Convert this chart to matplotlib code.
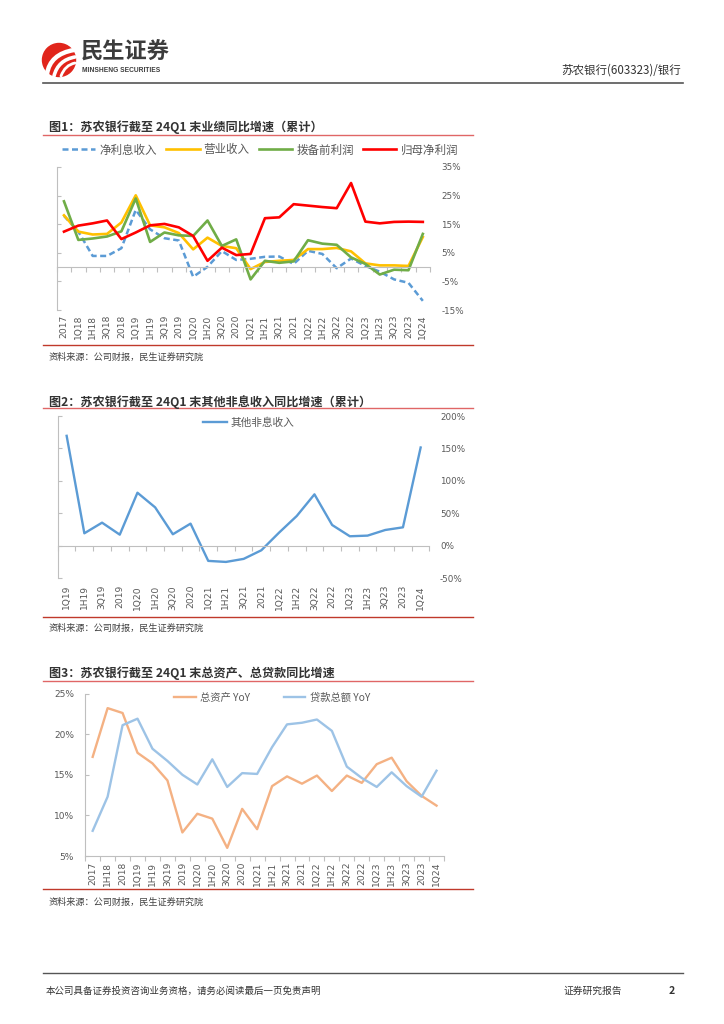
import numpy as np
import matplotlib
matplotlib.use('Agg')
import matplotlib.pyplot as plt
from matplotlib.patches import Circle, PathPatch
from matplotlib.path import Path
from matplotlib.ticker import FuncFormatter

plt.rcParams['font.family'] = ['Noto Sans CJK SC', 'DejaVu Sans']

# ---------------- data ----------------
periods1 = ['2017', '1Q18', '1H18', '3Q18', '2018', '1Q19', '1H19', '3Q19', '2019',
            '1Q20', '1H20', '3Q20', '2020', '1Q21', '1H21', '3Q21', '2021',
            '1Q22', '1H22', '3Q22', '2022', '1Q23', '1H23', '3Q23', '2023', '1Q24']
net_interest_income = [17.9, 12.4, 3.9, 3.9, 6.6, 20.0, 13.2, 10.1, 9.3, -3.4, 0.1, 5.6, 2.5,
                       2.9, 3.6, 3.7, 1.1, 5.7, 4.6, -0.4, 3.0, 0.4, -1.6, -4.3, -5.5, -11.8]
operating_revenue = [18.1, 12.4, 11.4, 11.6, 15.6, 25.1, 14.6, 13.9, 11.9, 6.2, 10.3, 7.4, 6.6,
                     -0.7, 1.8, 2.2, 2.5, 6.3, 6.3, 6.7, 5.5, 1.3, 0.6, 0.6, 0.4, 10.5]
pre_provision_profit = [23.0, 9.5, 10.0, 10.7, 12.5, 24.0, 8.8, 12.1, 11.1, 10.9, 16.3, 7.4, 9.7,
                        -4.3, 2.2, 1.5, 2.0, 9.4, 8.2, 7.8, 3.4, 1.1, -2.6, -0.9, -1.1, 11.6]
net_profit_parent = [12.4, 14.5, 15.3, 16.3, 9.8, 12.1, 14.6, 15.1, 13.9, 10.9, 2.2, 6.8, 4.2,
                     4.6, 17.1, 17.4, 22.0, 21.5, 21.0, 20.6, 29.4, 15.9, 15.3, 15.8, 15.9, 15.8]
labels1 = ['净利息收入', '营业收入', '拨备前利润', '归母净利润']
yticks1 = [-15, -5, 5, 15, 25, 35]

periods2 = ['1Q19', '1H19', '3Q19', '2019', '1Q20', '1H20', '3Q20', '2020', '1Q21', '1H21',
            '3Q21', '2021', '1Q22', '1H22', '3Q22', '2022', '1Q23', '1H23', '3Q23', '2023', '1Q24']
other_non_interest = [169.4, 19.0, 35.4, 16.9, 81.6, 59.0, 17.5, 33.9, -23.6, -25.2, -20.5,
                      -7.2, 20.0, 45.7, 79.1, 31.8, 14.4, 15.4, 24.1, 28.2, 151.4]
labels2 = ['其他非息收入']
yticks2 = [-50, 0, 50, 100, 150, 200]

periods3 = ['2017', '1H18', '2018', '1Q19', '1H19', '3Q19', '2019', '1Q20', '1H20', '3Q20',
            '2020', '1Q21', '1H21', '3Q21', '2021', '1Q22', '1H22', '3Q22', '2022', '1Q23',
            '1H23', '3Q23', '2023', '1Q24']
total_assets_yoy = [17.2, 23.2, 22.6, 17.7, 16.4, 14.3, 7.9, 10.2, 9.6, 6.0, 10.8, 8.3, 13.6,
                    14.8, 13.9, 14.9, 13.0, 14.9, 14.0, 16.3, 17.1, 14.2, 12.4, 11.2]
total_loans_yoy = [8.1, 12.3, 21.1, 21.9, 18.2, 16.7, 15.0, 13.8, 16.9, 13.5, 15.2, 15.1, 18.4,
                   21.2, 21.4, 21.8, 20.4, 16.0, 14.6, 13.5, 15.3, 13.6, 12.3, 15.5]
labels3 = ['总资产 YoY', '贷款总额 YoY']
yticks3 = [5, 10, 15, 20, 25]

titles = ['图1：苏农银行截至 24Q1 末业绩同比增速（累计）',
          '图2：苏农银行截至 24Q1 末其他非息收入同比增速（累计）',
          '图3：苏农银行截至 24Q1 末总资产、总贷款同比增速']
source_text = '资料来源：公司财报，民生证券研究院'

# ---------------- figure ----------------
W, H = 724, 1024
fig = plt.figure(figsize=(W / 100, H / 100), dpi=100)

GRAY = '#BFBFBF'
TXT = '#595959'
TICKFONT = 'DejaVu Sans'


def box(l, t, r, b):
    return [l / W, 1 - b / H, (r - l) / W, (b - t) / H]


pct = FuncFormatter(lambda v, p: f'{v:.0f}%')


def zero_axis_style(ax, periods, ylim, yticks, ypad, xpad):
    n = len(periods)
    ax.set_xlim(-0.5, n - 0.5)
    ax.set_ylim(*ylim)
    for s in ['top', 'right']:
        ax.spines[s].set_visible(False)
    ax.spines['left'].set_color(GRAY)
    ax.spines['bottom'].set_color(GRAY)
    ax.spines['bottom'].set_position(('data', 0))
    ax.set_xticks(np.arange(-0.5, n, 1.0))
    ax.tick_params(axis='x', length=3.5, color=GRAY, labelbottom=False, direction='out', width=0.8)
    ax.set_yticks(yticks)
    ax.yaxis.set_major_formatter(pct)
    ax.tick_params(axis='y', left=True, right=False, labelleft=False, labelright=True,
                   direction='in', length=3, color=GRAY, width=0.8, pad=ypad)
    for t in ax.get_yticklabels():
        t.set_fontsize(6.3)
        t.set_color(TXT)
        t.set_family(TICKFONT)
    sec = ax.secondary_xaxis('bottom')
    sec.set_xticks(range(n))
    sec.set_xticklabels(periods, rotation=90, fontsize=6.6, color=TXT, family=TICKFONT)
    sec.tick_params(length=0, pad=xpad)
    for s in sec.spines.values():
        s.set_visible(False)


# ---- chart 1 ----
ax1 = fig.add_axes(box(56.8, 167, 430, 310))
x1 = np.arange(len(periods1))
l_a, = ax1.plot(x1, net_interest_income, color='#5B9BD5', lw=1.8, ls=(0, (2.4, 1.4)))
l_b, = ax1.plot(x1, operating_revenue, color='#FFC000', lw=1.9)
l_c, = ax1.plot(x1, pre_provision_profit, color='#70AD47', lw=1.9)
l_d, = ax1.plot(x1, net_profit_parent, color='#FF0000', lw=1.9)
zero_axis_style(ax1, periods1, (-15, 35), yticks1, 8, 3.5)
fig.legend([l_a, l_b, l_c, l_d], labels1, loc='center', bbox_to_anchor=(260 / W, 1 - 150 / H),
           ncol=4, frameon=False, fontsize=8.3, handlelength=2.9, handletextpad=0.35,
           columnspacing=0.8, labelcolor=TXT, borderpad=0)

# ---- chart 2 ----
ax2 = fig.add_axes(box(57.8, 416, 429.5, 578))
x2 = np.arange(len(periods2))
l_e, = ax2.plot(x2, other_non_interest, color='#5B9BD5', lw=1.7)
zero_axis_style(ax2, periods2, (-50, 200), yticks2, 7.5, 5)
fig.legend([l_e], labels2, loc='center', bbox_to_anchor=(249 / W, 1 - 423 / H),
           frameon=False, fontsize=7.7, handlelength=2.2, handletextpad=0.35,
           labelcolor=TXT, borderpad=0)

# ---- chart 3 ----
ax3 = fig.add_axes(box(85.2, 693.5, 444, 856))
x3 = np.arange(len(periods3))
l_f, = ax3.plot(x3, total_assets_yoy, color='#F4B183', lw=1.7)
l_g, = ax3.plot(x3, total_loans_yoy, color='#9DC3E6', lw=1.7)
n3 = len(periods3)
ax3.set_xlim(-0.5, n3 - 0.5)
ax3.set_ylim(5, 25)
for s in ['top', 'right']:
    ax3.spines[s].set_visible(False)
for s in ['left', 'bottom']:
    ax3.spines[s].set_color(GRAY)
ax3.set_xticks(x3)
ax3.set_xticklabels(periods3, rotation=90, fontsize=6.6, color=TXT, family=TICKFONT)
ax3.set_xticks(np.arange(-0.5, n3, 1.0), minor=True)
ax3.tick_params(axis='x', which='major', length=0, pad=4)
ax3.tick_params(axis='x', which='minor', length=3.5, color=GRAY, direction='out', width=0.8)
ax3.set_yticks(yticks3)
ax3.yaxis.set_major_formatter(pct)
ax3.tick_params(axis='y', direction='in', length=3, color=GRAY, width=0.8, pad=8)
for t in ax3.get_yticklabels():
    t.set_fontsize(6.5)
    t.set_color(TXT)
    t.set_family(TICKFONT)
fig.legend([l_f, l_g], labels3, loc='center', bbox_to_anchor=(272 / W, 1 - 698 / H),
           ncol=2, frameon=False, fontsize=7.4, handlelength=2.1, handletextpad=0.4,
           columnspacing=3.3, labelcolor=TXT, borderpad=0)

# ---------------- page decorations ----------------
deco = fig.add_axes([0, 0, 1, 1], zorder=-1)
deco.set_xlim(0, W)
deco.set_ylim(H, 0)
deco.axis('off')

# logo
deco.add_patch(Circle((59, 60), 16.5, color='#E1251B'))
for (p0, p1, p2, lw) in [((47, 74), (50, 54), (74, 50), 3.2),
                         ((54, 76), (58, 60), (75, 57), 2.6),
                         ((61, 76), (65, 65), (75, 63), 2.0)]:
    path = Path([p0, p1, p2], [Path.MOVETO, Path.CURVE3, Path.CURVE3])
    deco.add_patch(PathPatch(path, facecolor='none', edgecolor='white', lw=lw, capstyle='round'))
deco.text(81, 52, '民生证券', fontsize=16, fontweight='bold', color='#3C3C3C', va='center', ha='left')
deco.text(82, 70.5, 'MINSHENG SECURITIES', fontsize=4.8, fontweight='bold', color='#3C3C3C',
          va='center', ha='left', family='Liberation Sans')
deco.text(681, 70, '苏农银行(603323)/银行', fontsize=8.3, color='#333333', va='center', ha='right')
deco.plot([43, 683], [83, 83], color='#555555', lw=1.2)

# chart titles, rules and sources
title_y = [127, 402, 673]
top_rule = [135, 408, 681]
bot_rule = [345, 617, 889]
src_y = [357, 628, 902]
for ty, tr, br, sy, tt in zip(title_y, top_rule, bot_rule, src_y, titles):
    deco.text(49, ty, tt, fontsize=8.7, fontweight='bold', color='#333333', va='center', ha='left')
    deco.plot([43, 473], [tr, tr], color='#E06666', lw=1.0)
    deco.plot([43, 473], [br, br], color='#C0392B', lw=1.0)
    deco.text(49, sy, source_text, fontsize=6.6, color='#404040', va='center', ha='left')

# footer
deco.plot([43, 683], [973, 973], color='#555555', lw=1.0)
deco.text(46, 991, '本公司具备证券投资咨询业务资格，请务必阅读最后一页免责声明', fontsize=6.8,
          color='#333333', va='center', ha='left')
deco.text(564, 991, '证券研究报告', fontsize=7, color='#333333', va='center', ha='left')
deco.text(672, 991, '2', fontsize=7.5, fontweight='bold', color='#333333', va='center', ha='center')

fig.savefig('out.png', dpi=100)
